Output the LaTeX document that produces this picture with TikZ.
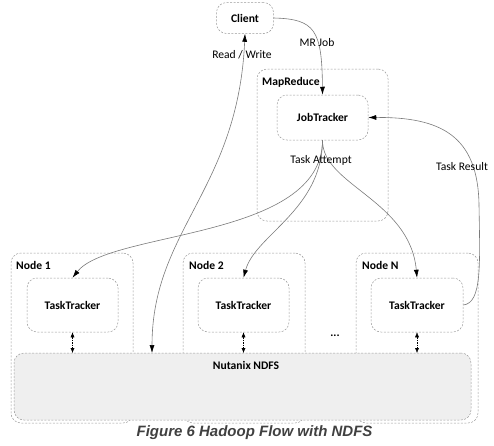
\documentclass[tikz,border=0pt]{standalone}
\usepackage{fontspec}
\setmainfont{Carlito}
\newfontfamily\capfont{Liberation Sans}
\usetikzlibrary{arrows.meta}
\definecolor{boxline}{HTML}{9A9A9A}
\definecolor{wire}{HTML}{7A7A7A}
\definecolor{ndfsfill}{HTML}{EFEFEF}
\definecolor{captxt}{HTML}{404040}
\tikzset{
  dbox/.style={draw=boxline, dash pattern=on 2pt off 1.5pt, line width=0.5pt, rounded corners=10pt, minimum width=#1},
  lbl/.style={font=\fontsize{11.6}{13}\selectfont, inner sep=1pt},
  blbl/.style={font=\bfseries\fontsize{11.6}{13}\selectfont, inner sep=0pt},
  wirearrow/.style={draw=wire, line width=0.6pt, -{Latex[length=8pt,width=5pt,black]}},
  dbl/.style={draw=black, dash pattern=on 1.5pt off 1pt, line width=0.4pt, {Latex[length=5pt,width=4pt]}-{Latex[length=5pt,width=4pt]}},
}
\begin{document}
\begin{tikzpicture}[x=1pt,y=-1pt]
\useasboundingbox (0,0) rectangle (494,445);
% Client
\node[dbox=57pt, minimum height=31pt, blbl] (client) at (245,18) {Client};
% MapReduce
\node[dbox=131pt, minimum height=152pt] (mr) at (322.5,145) {};
\node[blbl, anchor=west] (mrl) at (262,82) {MapReduce};
\node[dbox=91pt, minimum height=45pt, blbl] (jt) at (322.5,117.5) {JobTracker};
% Node boxes
\node[dbox=122pt, minimum height=170pt] (n1) at (72,338) {};
\node[dbox=122pt, minimum height=170pt] (n2) at (244,338) {};
\node[dbox=122pt, minimum height=170pt] (nn) at (417,338) {};
\node[blbl, anchor=west] (n1l) at (16,265) {Node 1};
\node[blbl, anchor=west] (n2l) at (189,265) {Node 2};
\node[blbl, anchor=west] (nnl) at (362,265) {Node N};
% TaskTrackers
\node[dbox=91pt, minimum height=54pt, blbl] (tt1) at (72.5,305) {TaskTracker};
\node[dbox=91pt, minimum height=54pt, blbl] (tt2) at (243.5,305) {TaskTracker};
\node[dbox=92pt, minimum height=54pt, blbl] (ttn) at (417,305) {TaskTracker};
% NDFS
\node[dbox=457pt, minimum height=67pt, fill=ndfsfill] (ndfs) at (242.5,386.5) {};
\node[blbl] (ndfsl) at (246,365) {Nutanix NDFS};
\node[blbl] (dots) at (335,336) {...};
% coordinates
\coordinate (rwend) at (152,353);
\coordinate (d1) at (72.5,353);
\coordinate (d2) at (243.5,353);
\coordinate (dn) at (417,353);
% double arrows TT <-> NDFS
\draw[dbl] (tt1.south) -- (d1);
\draw[dbl] (tt2.south) -- (d2);
\draw[dbl] (ttn.south) -- (dn);
% Read / Write
\draw[wirearrow, {Latex[length=8pt,width=5pt,black]}-{Latex[length=8pt,width=5pt,black]}]
  (client.south) .. controls (238,190) and (152,230) .. (rwend);
% MR Job
\draw[wirearrow] (client.east) .. controls (315,19) and (322,30) .. (jt.north);
% Task Attempt
\draw[wirearrow] (jt.south) .. controls (322,240) and (110,230) .. (tt1.north);
\draw[wirearrow] (jt.south) .. controls (322,210) and (255,235) .. (tt2.north);
\draw[wirearrow] (jt.south) .. controls (322,185) and (410,200) .. (ttn.north);
% Task Result
\coordinate (trmid) at (479,205);
\draw[draw=wire, line width=0.6pt] (ttn.east) .. controls (482,303) and (480,265) .. (trmid);
\draw[wirearrow] (trmid) .. controls (478,135) and (440,117) .. (jt.east);
% labels
\node[lbl] (rwl) at (242,55) {Read / Write};
\node[lbl] (mrj) at (317,43) {MR Job};
\node[lbl] (tal) at (321,160) {Task Attempt};
\node[lbl] (trl) at (462,167) {Task Result};
% caption
\node[font=\capfont\bfseries\itshape\fontsize{15}{17}\selectfont, text=captxt] (cap) at (254.5,433) {Figure 6 Hadoop Flow with NDFS};
\end{tikzpicture}
\end{document}
